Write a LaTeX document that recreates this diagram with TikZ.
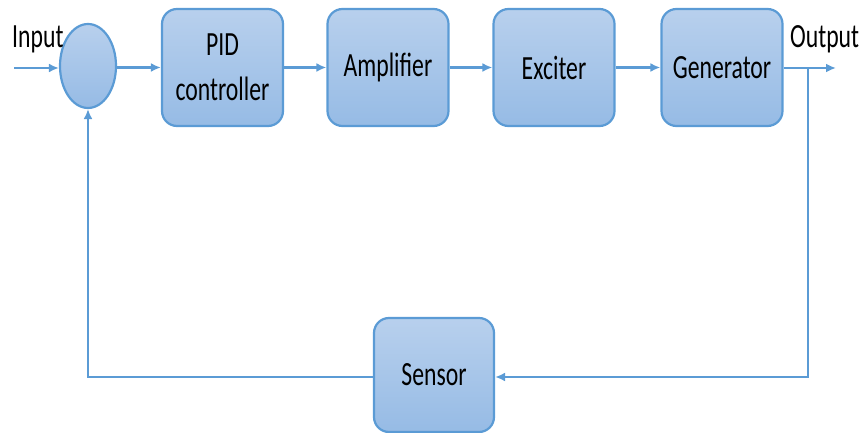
\documentclass[tikz,border=0pt]{standalone}
\usepackage{fontspec}
\setmainfont{Carlito}
\newfontfamily\narrowfont[FakeStretch=0.7]{Carlito}
\usetikzlibrary{shapes.geometric,arrows.meta}
\definecolor{edgeblue}{RGB}{91,155,213}
\definecolor{topfill}{RGB}{184,208,237}
\definecolor{botfill}{RGB}{150,187,229}
\tikzset{
  blockbox/.style={draw=edgeblue, line width=2.2bp, rounded corners=15bp,
    top color=topfill, bottom color=botfill, inner sep=0pt,
    minimum width=121bp, minimum height=117bp, align=center,
    font=\narrowfont\fontsize{34}{45}\selectfont},
  sumnode/.style={draw=edgeblue, line width=2.2bp, ellipse, inner sep=0pt,
    top color=topfill, bottom color=botfill,
    minimum width=56bp, minimum height=84bp},
  conn/.style={draw=edgeblue, line width=2.2bp},
  arr/.style={conn, -{Latex[length=10bp,width=9bp]}},
  lbl/.style={font=\narrowfont\fontsize{34}{40}\selectfont, inner sep=0pt}
}
\begin{document}
\begin{tikzpicture}[x=1bp,y=-1bp]
\useasboundingbox (0,0) rectangle (860,433);
\node[sumnode] (sum) at (88,66) {};
\node[blockbox] (pid) at (222.5,67.5) {PID\\controller};
\node[blockbox] (amp) at (388,67.5) {\raisebox{-2bp}{Amplifier}};
\node[blockbox] (exc) at (554,67.5) {\raisebox{-2bp}{Exciter}};
\node[blockbox] (gen) at (722,67.5) {\raisebox{-2bp}{Generator}};
\node[blockbox, minimum width=120bp, minimum height=114bp] (sen) at (434,375) {\raisebox{-3bp}{Sensor}};
\coordinate (in) at (14,68);
\coordinate (out) at (836,68);
\coordinate (tap) at (808,68);
\coordinate (cr) at (808,377);
\coordinate (cl) at (88,377);
\node[lbl, anchor=south west] (inlbl) at (12,53) {Input};
\node[lbl, anchor=south west] (outlbl) at (790,53) {Output};
\draw[arr] (in) -- (sum.west |- in);
\draw[arr] (sum.east |- pid) -- (pid.west);
\draw[arr] (pid) -- (amp);
\draw[arr] (amp) -- (exc);
\draw[arr] (exc) -- (gen);
\draw[arr] (gen.east |- out) -- (out);
\draw[arr] (tap) -- (cr) -- (sen.east |- cr);
\draw[arr] (sen.west |- cl) -- (cl) -- (sum.south);
\end{tikzpicture}
\end{document}
